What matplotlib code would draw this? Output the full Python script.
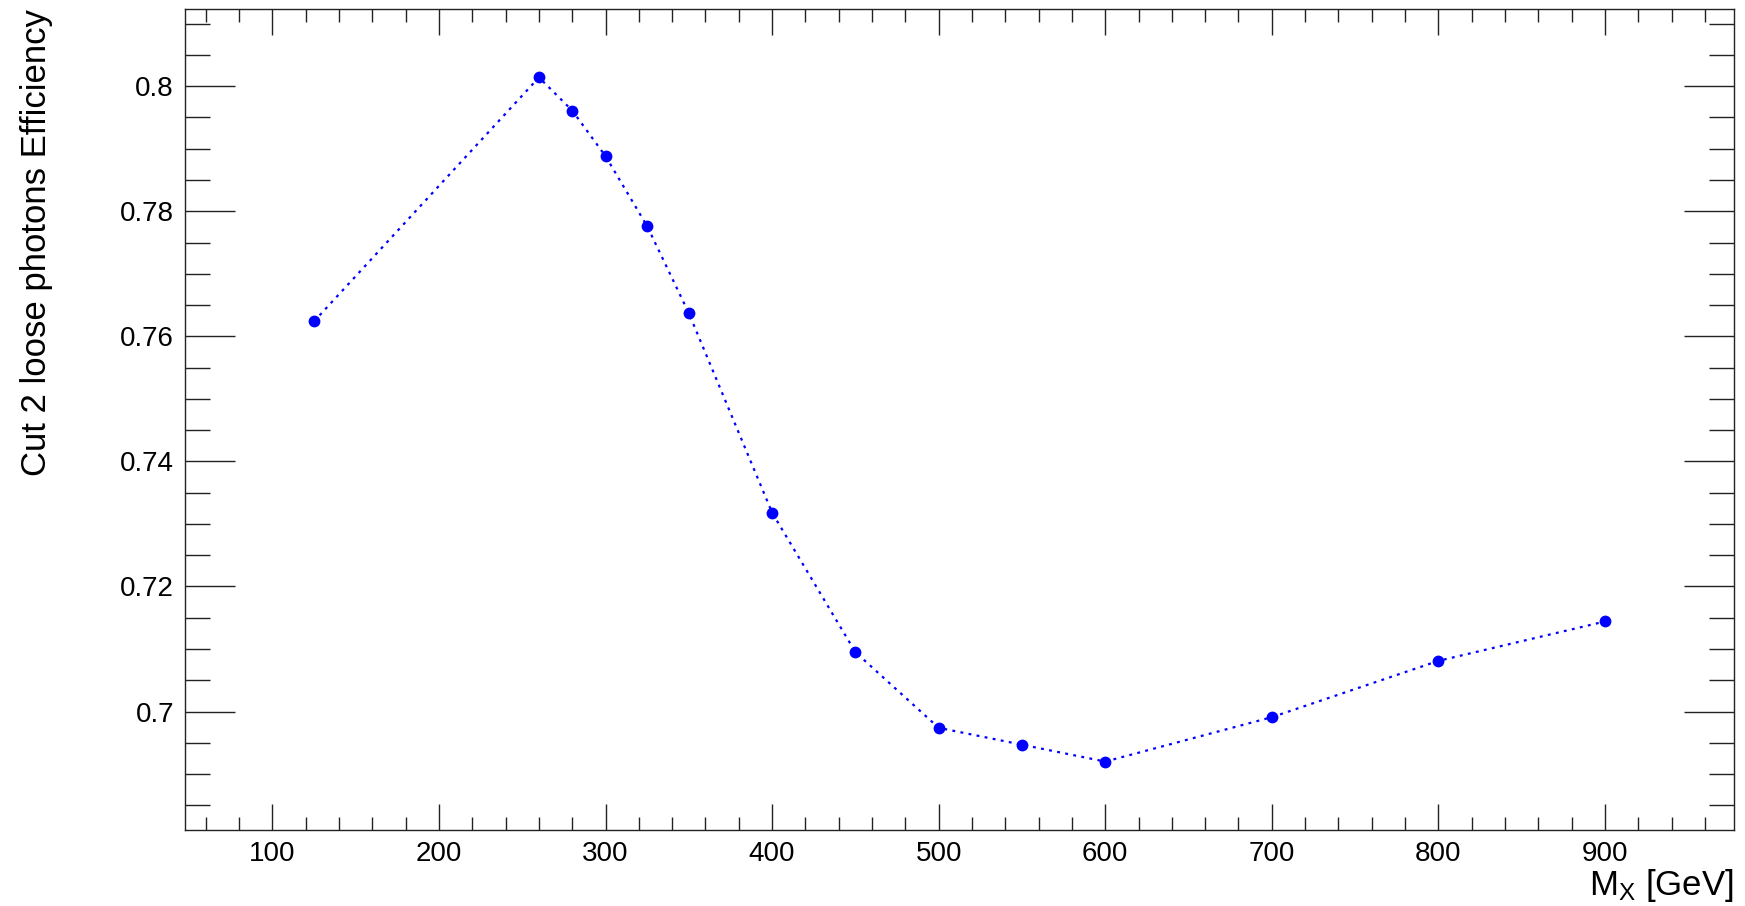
import matplotlib
matplotlib.use("Agg")
import matplotlib.pyplot as plt
from matplotlib.ticker import MultipleLocator

# signal mass points [GeV] and cut efficiency
mass = [125, 260, 280, 300, 325, 350, 400, 450, 500, 550, 600, 700, 800, 900]
eff = [0.7624, 0.8014, 0.7961, 0.7888, 0.7776, 0.7637, 0.7318, 0.7095,
       0.6974, 0.6947, 0.6920, 0.6991, 0.7081, 0.7144]

plt.rcParams['font.family'] = ['Liberation Sans', 'DejaVu Sans']
plt.rcParams['mathtext.fontset'] = 'custom'
plt.rcParams['mathtext.rm'] = 'Liberation Sans'
plt.rcParams['mathtext.it'] = 'Liberation Sans:italic'

fig = plt.figure(figsize=(17.45, 9.06), dpi=100)
ax = fig.add_axes([185 / 1745, 1 - 830 / 906, (1734 - 185) / 1745, (830 - 9) / 906])

ax.plot(mass, eff, color='#0000ff', lw=1.6, linestyle=(0, (1.3, 2.4)),
        marker='o', markersize=8.5, markeredgewidth=0)

# ROOT style 10% margins around the data
xr = max(mass) - min(mass)
yr = max(eff) - min(eff)
ax.set_xlim(min(mass) - 0.1 * xr, max(mass) + 0.1 * xr)
ax.set_ylim(min(eff) - 0.1 * yr, max(eff) + 0.1 * yr)

ax.xaxis.set_major_locator(MultipleLocator(100))
ax.xaxis.set_minor_locator(MultipleLocator(20))
ax.yaxis.set_major_locator(MultipleLocator(0.02))
ax.yaxis.set_minor_locator(MultipleLocator(0.005))
ax.yaxis.set_major_formatter(plt.FuncFormatter(lambda v, p: ('%g' % round(v, 3))))

ax.tick_params(axis='both', which='both', direction='in', top=True, right=True,
               labelsize=20, color='#222222', width=1.0)
ax.tick_params(axis='x', which='major', length=19, pad=8)
ax.tick_params(axis='x', which='minor', length=9.5)
ax.tick_params(axis='y', which='major', length=36, pad=8)
ax.tick_params(axis='y', which='minor', length=18)
for s in ax.spines.values():
    s.set_linewidth(1.0)
    s.set_color('#222222')

ax.set_xlabel(r'M$_{\mathrm{X}}$ [GeV]', fontsize=25, loc='right', labelpad=0)
ax.set_ylabel('Cut 2 loose photons Efficiency', fontsize=25, loc='top', labelpad=48)

fig.savefig('out.png', dpi=100)
